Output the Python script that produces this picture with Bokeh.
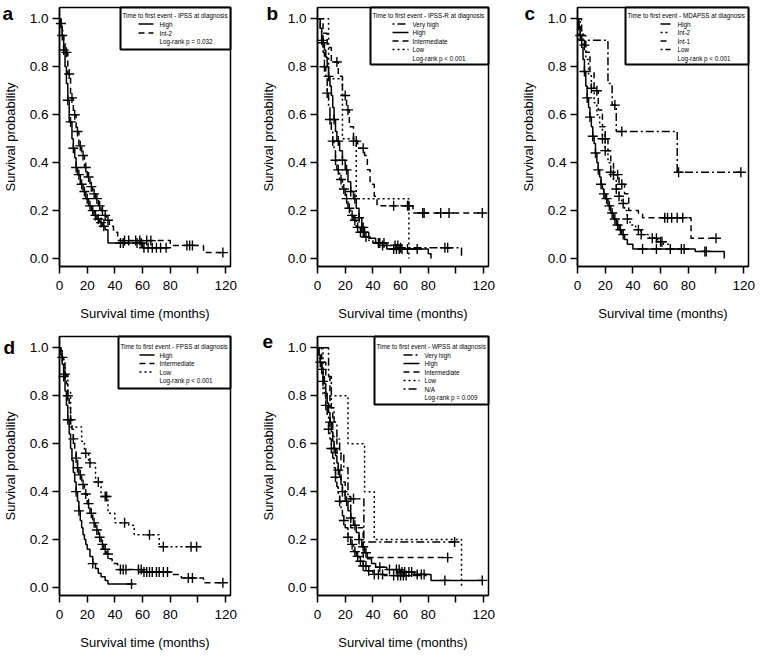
import numpy as np
from bokeh.plotting import figure
from bokeh.models import Range1d, FixedTicker, PrintfTickFormatter
from bokeh.layouts import row, column
from bokeh.embed import file_html
from bokeh.resources import INLINE
from bokeh.core.properties import value

# ---------------- data ----------------
x_ticks = [0, 20, 40, 60, 80, 100, 120]
x_tick_hidden = [100]
y_ticks = [0.0, 0.2, 0.4, 0.6, 0.8, 1.0]

# Panel a - IPSS
a_high_t = [0, 1, 2, 3, 4, 5, 6, 7, 9, 10, 11, 12, 13, 15, 17, 19, 21, 23, 25, 27, 29, 31, 33, 35, 60, 79]
a_high_s = [1.0, 0.97, 0.93, 0.87, 0.80, 0.73, 0.66, 0.57, 0.50, 0.46, 0.42, 0.38, 0.35, 0.31, 0.28, 0.25, 0.22, 0.20, 0.18, 0.165, 0.15, 0.135, 0.12, 0.065, 0.045, 0.045]
a_high_c = [2, 3, 6, 8, 10, 12, 14, 16, 18, 20, 22, 24, 26, 28, 30, 32, 44, 46, 56, 59, 61, 64, 67, 70, 73, 77]
a_int2_t = [0, 1, 2, 3, 4, 6, 8, 10, 12, 14, 16, 18, 20, 22, 24, 26, 28, 30, 32, 34, 36, 39, 42, 80, 104, 118]
a_int2_s = [1.0, 0.98, 0.95, 0.91, 0.86, 0.77, 0.67, 0.60, 0.53, 0.47, 0.43, 0.38, 0.34, 0.30, 0.27, 0.25, 0.22, 0.20, 0.18, 0.16, 0.135, 0.11, 0.075, 0.055, 0.025, 0.025]
a_int2_c = [1, 5, 7, 9, 11, 13, 15, 17, 19, 21, 23, 25, 27, 29, 31, 33, 35, 47, 50, 55, 58, 63, 66, 92, 94, 96, 118]

# Panel b - IPSS-R
b_vhigh_t = [0, 2, 3, 4, 5, 6, 7, 8, 9, 10, 11, 12, 13, 14, 16, 18, 20, 22, 24, 26, 28, 31, 34, 37, 40, 47, 60, 104]
b_vhigh_s = [1.0, 0.95, 0.91, 0.86, 0.80, 0.75, 0.69, 0.63, 0.58, 0.53, 0.49, 0.45, 0.41, 0.37, 0.33, 0.29, 0.25, 0.21, 0.18, 0.16, 0.13, 0.11, 0.09, 0.075, 0.065, 0.055, 0.045, 0.0]
b_vhigh_c = [3, 5, 7, 9, 11, 13, 15, 17, 19, 21, 23, 25, 27, 29, 31, 33, 35, 45, 47, 56, 58, 60, 92, 94]
b_high_t = [0, 2, 3, 4, 5, 6, 7, 8, 9, 10, 11, 12, 13, 14, 16, 18, 20, 22, 24, 26, 28, 30, 32, 34, 37, 42, 50, 80, 82]
b_high_s = [1.0, 0.96, 0.93, 0.90, 0.87, 0.84, 0.80, 0.76, 0.72, 0.68, 0.63, 0.58, 0.53, 0.49, 0.45, 0.41, 0.37, 0.32, 0.28, 0.25, 0.21, 0.17, 0.13, 0.11, 0.085, 0.065, 0.04, 0.02, 0.0]
b_high_c = [4, 8, 12, 15, 18, 21, 24, 27, 30, 32, 33, 44, 48, 55, 57, 59, 61, 65, 72]
b_int_t = [0, 4, 7, 10, 15, 18, 21, 23, 26, 29, 34, 36, 38, 41, 43, 69, 120]
b_int_s = [1.0, 0.94, 0.88, 0.82, 0.76, 0.68, 0.62, 0.55, 0.49, 0.46, 0.43, 0.37, 0.31, 0.26, 0.22, 0.19, 0.19]
b_int_c = [14, 20, 22, 26, 28, 33, 55, 65, 66, 76, 77, 89, 95, 119]
b_low_t = [0, 8, 18, 28, 66]
b_low_s = [1.0, 0.75, 0.50, 0.25, 0.0]
b_low_c = []

# Panel c - MDAPSS
c_high_t = [0, 1, 2, 3, 4, 5, 6, 7, 8, 9, 10, 11, 12, 13, 14, 15, 16, 17, 18, 19, 20, 22, 24, 26, 28, 30, 32, 34, 36, 40, 85, 106]
c_high_s = [1.0, 0.96, 0.93, 0.88, 0.83, 0.78, 0.72, 0.67, 0.63, 0.59, 0.55, 0.51, 0.48, 0.44, 0.40, 0.37, 0.34, 0.31, 0.29, 0.27, 0.25, 0.22, 0.19, 0.165, 0.14, 0.12, 0.10, 0.08, 0.06, 0.04, 0.03, 0.0]
c_high_c = [2, 5, 7, 9, 11, 13, 15, 17, 19, 21, 23, 25, 27, 29, 31, 33, 47, 57, 67, 75, 77, 92, 93]
c_int2_t = [0, 2, 4, 6, 8, 10, 12, 14, 16, 18, 20, 22, 24, 26, 28, 30, 32, 34, 36, 38, 42, 46, 52, 58, 62, 66]
c_int2_s = [1.0, 0.95, 0.89, 0.83, 0.77, 0.71, 0.65, 0.60, 0.55, 0.50, 0.45, 0.40, 0.36, 0.33, 0.29, 0.26, 0.23, 0.20, 0.165, 0.14, 0.12, 0.10, 0.085, 0.07, 0.06, 0.06]
c_int2_c = [5, 10, 18, 20, 24, 28, 30, 33, 36, 44, 46, 54, 57, 60, 61]
c_int1_t = [0, 3, 6, 9, 12, 15, 18, 20, 22, 24, 26, 30, 34, 37, 44, 47, 82, 100]
c_int1_s = [1.0, 0.93, 0.86, 0.78, 0.70, 0.62, 0.55, 0.50, 0.45, 0.40, 0.35, 0.31, 0.27, 0.20, 0.185, 0.17, 0.085, 0.085]
c_int1_c = [14, 20, 26, 29, 32, 63, 65, 68, 72, 76, 100]
c_low_t = [0, 1, 22, 25, 28, 72, 118]
c_low_s = [1.0, 0.91, 0.73, 0.64, 0.53, 0.36, 0.36]
c_low_c = [27, 32, 73, 118]

# Panel d - FPSS
d_high_t = [0, 1, 2, 3, 4, 5, 6, 7, 8, 9, 10, 11, 12, 13, 14, 15, 16, 17, 18, 19, 20, 22, 24, 26, 28, 30, 33, 35, 52]
d_high_s = [1.0, 0.97, 0.93, 0.88, 0.82, 0.76, 0.70, 0.64, 0.58, 0.53, 0.48, 0.44, 0.40, 0.36, 0.32, 0.28, 0.25, 0.22, 0.20, 0.18, 0.16, 0.13, 0.10, 0.08, 0.06, 0.045, 0.03, 0.015, 0.015]
d_high_c = [3, 6, 12, 14, 24, 52]
d_int_t = [0, 1, 2, 3, 4, 5, 6, 7, 8, 9, 10, 11, 12, 13, 14, 16, 18, 20, 22, 24, 26, 28, 30, 32, 34, 36, 38, 42, 60, 80, 88, 104, 118]
d_int_s = [1.0, 0.98, 0.96, 0.93, 0.89, 0.85, 0.80, 0.75, 0.70, 0.66, 0.62, 0.58, 0.54, 0.50, 0.47, 0.43, 0.39, 0.35, 0.31, 0.27, 0.24, 0.21, 0.18, 0.16, 0.14, 0.12, 0.10, 0.075, 0.065, 0.055, 0.04, 0.02, 0.02]
d_int_c = [2, 4, 6, 8, 10, 12, 13, 15, 17, 19, 21, 23, 25, 27, 29, 31, 33, 35, 44, 46, 48, 57, 59, 61, 63, 65, 67, 70, 72, 75, 78, 93, 96, 118]
d_low_t = [0, 2, 4, 6, 8, 16, 18, 21, 26, 30, 35, 40, 50, 54, 72, 101]
d_low_s = [1.0, 0.95, 0.89, 0.82, 0.67, 0.61, 0.56, 0.52, 0.44, 0.38, 0.31, 0.27, 0.26, 0.22, 0.17, 0.17]
d_low_c = [19, 22, 28, 33, 34, 47, 65, 75, 95, 99]

# Panel e - WPSS
e_vhigh_t = [0, 1, 2, 3, 4, 5, 6, 7, 8, 9, 10, 11, 12, 13, 14, 15, 16, 17, 18, 19, 20, 22, 24, 26, 28, 30, 33, 36, 40, 48, 80]
e_vhigh_s = [1.0, 0.97, 0.94, 0.90, 0.86, 0.81, 0.76, 0.71, 0.66, 0.62, 0.58, 0.54, 0.50, 0.46, 0.42, 0.39, 0.36, 0.33, 0.30, 0.28, 0.25, 0.21, 0.18, 0.15, 0.13, 0.11, 0.09, 0.07, 0.055, 0.05, 0.05]
e_vhigh_c = [2, 4, 6, 8, 10, 13, 16, 19, 22, 25, 27, 29, 31, 33, 35, 37, 41, 44, 47, 55, 58, 60, 62, 64]
e_high_t = [0, 1, 2, 3, 4, 5, 6, 7, 8, 9, 10, 11, 12, 13, 14, 15, 16, 17, 18, 20, 22, 24, 26, 28, 30, 32, 34, 36, 39, 42, 50, 60, 70, 82, 119]
e_high_s = [1.0, 0.97, 0.94, 0.91, 0.88, 0.85, 0.81, 0.77, 0.73, 0.69, 0.65, 0.61, 0.58, 0.55, 0.52, 0.49, 0.46, 0.43, 0.40, 0.36, 0.32, 0.29, 0.26, 0.23, 0.20, 0.17, 0.145, 0.12, 0.10, 0.085, 0.075, 0.065, 0.055, 0.03, 0.03]
e_high_c = [3, 9, 12, 15, 18, 21, 24, 27, 30, 33, 35, 45, 52, 57, 59, 61, 63, 66, 68, 72, 75, 77, 92, 119]
e_int_t = [0, 3, 6, 9, 11, 14, 17, 20, 24, 33, 94]
e_int_s = [1.0, 0.94, 0.88, 0.75, 0.63, 0.56, 0.44, 0.38, 0.25, 0.125, 0.125]
e_int_c = [94]
e_low_t = [0, 4, 22, 34, 41, 104]
e_low_s = [1.0, 0.8, 0.6, 0.4, 0.2, 0.0]
e_low_c = []
e_na_t = [0, 8, 10, 12, 14, 16, 19, 22, 33.5, 99]
e_na_s = [1.0, 0.88, 0.75, 0.69, 0.62, 0.56, 0.50, 0.37, 0.19, 0.19]
e_na_c = [26, 99]

# ---------------- styling / layout ----------------
FONT = "Liberation Sans"
BW, BH = 171, 259                 # plotting box size in px
X0, X1 = 0.0, 123.5               # box data limits
Y0, Y1 = -0.033, 1.047
SX = (X1 - X0) / BW
SY = (Y1 - Y0) / BH
DASH = {"solid": "solid", "dashed": "6 4", "dotted": "2 3",
        "twodash": "2 3 8 3", "longdot": "9 3 2 3"}


def px_x(px):
    return X0 + px * SX


def px_y(px):
    return Y1 - px * SY


def step_value(t, s, c):
    t = np.asarray(t, dtype=float)
    s = np.asarray(s, dtype=float)
    idx = np.searchsorted(t, np.asarray(c, dtype=float), side="right") - 1
    return s[np.clip(idx, 0, len(s) - 1)]


def make_panel(letter, curves, title, pval, box_w, box_h, title_y, rows_y,
               s0, s1, lab_x, borders, letter_pos):
    bl, br, bt, bb = borders
    W = bl + BW + br
    H = bt + BH + bb
    p = figure(frame_width=W, frame_height=H,
               x_range=Range1d(X0 - bl * SX, X1 + br * SX),
               y_range=Range1d(Y0 - bb * SY, Y1 + bt * SY),
               output_backend="svg", toolbar_location=None,
               min_border=0, min_border_left=0, min_border_right=0,
               min_border_top=0, min_border_bottom=0,
               background_fill_color="white", border_fill_color="white")
    p.grid.visible = False
    p.outline_line_color = None

    for ax in (p.xaxis[0], p.yaxis[0]):
        ax.axis_line_width = 1.5
        ax.major_tick_line_width = 1.5
        ax.major_tick_out = 7
        ax.major_tick_in = 0
        ax.minor_tick_line_color = None
        ax.major_label_text_font = FONT
        ax.major_label_text_font_size = "13.5px"
        ax.major_label_text_color = "black"
        ax.major_label_standoff = 4
        ax.axis_label_text_font = FONT
        ax.axis_label_text_font_size = "13px"
        ax.axis_label_text_font_style = "normal"
        ax.axis_label_text_color = "black"
    p.xaxis.fixed_location = Y0
    p.xaxis.bounds = (X0, X1)
    p.xaxis.ticker = FixedTicker(ticks=x_ticks)
    p.xaxis.major_label_overrides = {t: " " for t in x_tick_hidden}
    p.xaxis.axis_label = "Survival time (months)"
    p.xaxis.axis_label_standoff = 10
    p.yaxis.fixed_location = X0
    p.yaxis.bounds = (Y0, Y1)
    p.yaxis.ticker = FixedTicker(ticks=y_ticks)
    p.yaxis.formatter = PrintfTickFormatter(format="%.1f")
    p.yaxis.axis_label = "Survival probability"
    p.yaxis.axis_label_standoff = 9

    # plotting box
    p.quad(left=[X0], right=[X1], top=[Y1], bottom=[Y0], fill_color=None,
           line_color="black", line_width=1.5)

    for name, t, s, c, dash in curves:
        p.step(t, s, mode="after", line_color="black", line_width=1.5,
               line_dash=DASH[dash])
        if len(c):
            p.scatter(c, step_value(t, s, c), marker="cross", size=10,
                      line_color="black", line_width=1.4)

    # legend box at the top-right of the plotting box
    p.quad(left=[px_x(BW - box_w)], right=[px_x(BW)], top=[px_y(0)],
           bottom=[px_y(box_h)], fill_color="white", line_color="black",
           line_width=2)
    bx = BW - box_w
    txt_x = [px_x(bx + 2)]
    txt_y = [px_y(title_y)]
    txt = [title]
    for (name, t, s, c, dash), ry in zip(curves, rows_y):
        p.line([px_x(bx + s0), px_x(bx + s1)], [px_y(ry), px_y(ry)],
               line_color="black", line_width=1.6, line_dash=DASH[dash])
        txt_x.append(px_x(bx + lab_x))
        txt_y.append(px_y(ry))
        txt.append(name)
    txt_x.append(px_x(bx + lab_x))
    txt_y.append(px_y(rows_y[len(curves)]))
    txt.append(pval)
    p.text(x=txt_x, y=txt_y, text=txt, text_font=value(FONT),
           text_font_size="6.3px", text_baseline="middle", text_align="left",
           text_color="black")

    lx, ly = letter_pos
    p.text(x=[px_x(lx)], y=[px_y(ly)], text=[letter], text_font=value(FONT),
           text_font_size="19px", text_font_style="bold",
           text_baseline="top", text_align="left", text_color="black")
    return p


pa = make_panel("a",
                [("High", a_high_t, a_high_s, a_high_c, "solid"),
                 ("Int-2", a_int2_t, a_int2_s, a_int2_c, "dashed")],
                "Time to first event - IPSS at diagnosis", "Log-rank p = 0.032",
                110, 42, 7.5, [16.5, 25.5, 34], 18, 33, 39,
                (59, 18, 7, 58), (-57, -5))
pb = make_panel("b",
                [("Very high", b_vhigh_t, b_vhigh_s, b_vhigh_c, "twodash"),
                 ("High", b_high_t, b_high_s, b_high_c, "solid"),
                 ("Intermediate", b_int_t, b_int_s, b_int_c, "dashed"),
                 ("Low", b_low_t, b_low_s, b_low_c, "dotted")],
                "Time to first event - IPSS-R at diagnosis", "Log-rank p < 0.001",
                118, 57, 7.5, [16.5, 25, 33.5, 42, 50.5], 22, 38, 42,
                (69, 18, 7, 58), (-51, -5))
pc = make_panel("c",
                [("High", c_high_t, c_high_s, c_high_c, "solid"),
                 ("Int-2", c_int2_t, c_int2_s, c_int2_c, "dotted"),
                 ("Int-1", c_int1_t, c_int1_s, c_int1_c, "dashed"),
                 ("Low", c_low_t, c_low_s, c_low_c, "twodash")],
                "Time to first event - MDAPSS at diagnosis", "Log-rank p < 0.001",
                123, 57, 7.5, [16.5, 25, 33.5, 42, 50.5], 35, 45, 52,
                (71, 7, 7, 58), (-53, -5))
pd_ = make_panel("d",
                 [("High", d_high_t, d_high_s, d_high_c, "solid"),
                  ("Intermediate", d_int_t, d_int_s, d_int_c, "dashed"),
                  ("Low", d_low_t, d_low_s, d_low_c, "dotted")],
                 "Time to first event - FPSS at diagnosis", "Log-rank p < 0.001",
                 112, 52, 9.5, [18.5, 27, 35.5, 44], 21, 36, 41,
                 (59, 18, 12, 59), (-56, 0))
pe = make_panel("e",
                [("Very high", e_vhigh_t, e_vhigh_s, e_vhigh_c, "longdot"),
                 ("High", e_high_t, e_high_s, e_high_c, "solid"),
                 ("Intermediate", e_int_t, e_int_s, e_int_c, "dashed"),
                 ("Low", e_low_t, e_low_s, e_low_c, "dotted"),
                 ("N/A", e_na_t, e_na_s, e_na_c, "twodash")],
                "Time to first event - WPSS at diagnosis", "Log-rank p = 0.009",
                114, 68, 9.5, [18.5, 27, 35.5, 44, 52.5, 61], 29, 45, 50,
                (69, 18, 12, 59), (-55, -2))

layout = column(row(pa, pb, pc), row(pd_, pe))
open("out.html", "w").write(file_html(layout, INLINE))
